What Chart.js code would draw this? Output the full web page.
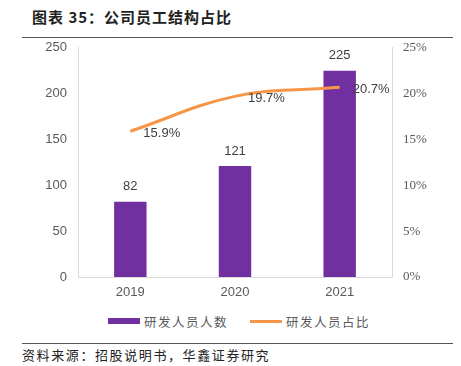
<!DOCTYPE html>
<html>
<head>
<meta charset="utf-8">
<script src="https://cdn.jsdelivr.net/npm/chart.js@4/dist/chart.umd.min.js"></script>
<style>
  body { margin: 0; width: 461px; height: 366px; background: #fff; position: relative; overflow: hidden; font-family: "Noto Sans CJK SC", sans-serif; }
  .title { position: absolute; left: 32px; top: 6px; font-size: 15px; font-weight: bold; color: #222; letter-spacing: 1px; z-index: 2; }
  .rule { position: absolute; left: 22px; width: 431px; height: 1px; background: #555; z-index: 2; }
  .src { position: absolute; left: 22px; top: 343px; font-size: 13px; color: #222; letter-spacing: 1.6px; }
  .wrap { position: absolute; left: 0; top: 29px; width: 461px; height: 273px; }
  .legend { position: absolute; top: 312px; left: 0; width: 461px; height: 18px; font-size: 12.5px; color: #595959; }
  .legend span { position: absolute; top: 0; letter-spacing: 1.5px; }
  .sw { position: absolute; }
</style>
</head>
<body>
<div class="wrap"><canvas id="chart"></canvas></div>
<div class="title">图表 35：公司员工结构占比</div>
<div class="rule" style="top:37px"></div>
<div class="legend">
  <div class="sw" style="left:108px;top:6px;width:32px;height:6px;background:#7030A0"></div>
  <span style="left:144px">研发人员人数</span>
  <div class="sw" style="left:250px;top:8px;width:32px;height:3px;background:#F79646"></div>
  <span style="left:286px">研发人员占比</span>
</div>
<div class="rule" style="top:343px"></div>
<div class="src" style="top:345px">资料来源：招股说明书，华鑫证券研究</div>
<script>
// --- 数据 ---
const years = ["2019", "2020", "2021"];
const staffCount = [82, 121, 225];
const staffRatio = [15.9, 19.7, 20.7];
const leftTicks = [0, 50, 100, 150, 200, 250];
const rightTicks = [0, 5, 10, 15, 20, 25];

// 数据标签
const labelPlugin = {
  id: "labels",
  afterDatasetsDraw(chart) {
    const ctx = chart.ctx;
    ctx.save();
    ctx.fillStyle = "#404040";
    ctx.font = "13px 'Liberation Sans', Arial, sans-serif";
    const bars = chart.getDatasetMeta(0).data;
    ctx.textAlign = "center";
    ctx.textBaseline = "middle";
    bars.forEach((b, i) => ctx.fillText(String(staffCount[i]), b.x, b.y - 15));
    const pts = chart.getDatasetMeta(1).data;
    ctx.textAlign = "left";
    pts.forEach((p, i) => ctx.fillText(staffRatio[i].toFixed(1) + "%", p.x + 13, p.y + 2));
    ctx.restore();
  },
};

const tickFont = { size: 13, family: "'Liberation Sans', Arial" };

new Chart(document.getElementById("chart"), {
  data: {
    labels: years,
    datasets: [
      {
        type: "bar",
        label: "研发人员人数",
        data: staffCount,
        backgroundColor: "#7030A0",
        yAxisID: "y",
        barPercentage: 0.31,
        categoryPercentage: 1,
        order: 2,
      },
      {
        type: "line",
        label: "研发人员占比",
        data: staffRatio,
        borderColor: "#F79646",
        borderWidth: 3,
        pointRadius: 0,
        tension: 0.4,
        yAxisID: "y1",
        order: 1,
      },
    ],
  },
  options: {
    responsive: true,
    maintainAspectRatio: false,
    animation: false,
    layout: { padding: { top: 1, left: 0, right: 0, bottom: 0 } },
    plugins: { legend: { display: false }, tooltip: { enabled: false } },
    scales: {
      x: {
        grid: { display: false, drawTicks: false },
        border: { color: "#d9d9d9" },
        ticks: { color: "#595959", font: tickFont, padding: 8 },
        afterFit: (s) => { s.height = 25; },
      },
      y: {
        position: "left",
        min: 0, max: 250,
        afterBuildTicks: (s) => { s.ticks = leftTicks.map((v) => ({ value: v })); },
        grid: { display: false, drawTicks: false },
        border: { color: "#d9d9d9" },
        ticks: { color: "#595959", font: tickFont, padding: 11 },
        afterFit: (s) => { s.width = 78; },
      },
      y1: {
        position: "right",
        min: 0, max: 25,
        afterBuildTicks: (s) => { s.ticks = rightTicks.map((v) => ({ value: v })); },
        grid: { display: false, drawTicks: false },
        border: { color: "#d9d9d9" },
        ticks: {
          color: "#595959",
          font: { size: 13, family: "'Liberation Serif', 'Times New Roman', serif" },
          padding: 11,
          callback: (v) => v + "%",
        },
        afterFit: (s) => { s.width = 69; },
      },
    },
  },
  plugins: [labelPlugin],
});
</script>
</body>
</html>
